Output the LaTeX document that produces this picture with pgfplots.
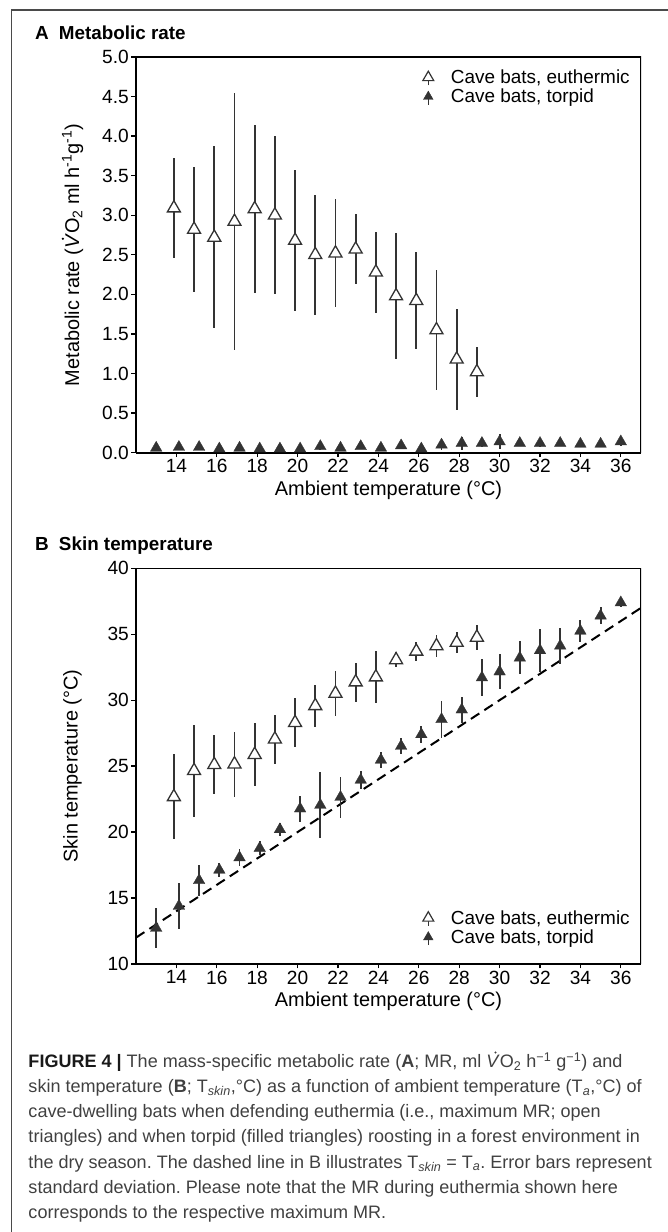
\documentclass[border=0pt]{standalone}
\usepackage{fontspec}
\setmainfont{Liberation Sans}
\usepackage{pgfplots}
\pgfplotsset{compat=1.18}
\usepackage{pgfplotstable}
\definecolor{c333}{HTML}{333333}
\definecolor{capg}{HTML}{404040}
\definecolor{framec}{HTML}{4A4A4A}
\frenchspacing

\newcommand{\Vdot}{\textit{V}\kern-0.3em\tikz[baseline=0pt]\fill (0,0.82em) circle (0.06em);\kern0.18em}

\pgfplotstableread{
x y e
13.875 3.09 0.63
14.875 2.82 0.79
15.875 2.72 1.15
16.875 2.92 1.62
17.875 3.08 1.06
18.875 3.00 1.00
19.875 2.68 0.89
20.875 2.50 0.76
21.875 2.52 0.68
22.875 2.57 0.44
23.875 2.28 0.51
24.875 1.98 0.79
25.875 1.92 0.61
26.875 1.55 0.76
27.875 1.18 0.64
28.875 1.02 0.32
}\euthA

\pgfplotstableread{
x y e
13 0.06 0.02
14.125 0.07 0.02
15.125 0.07 0.02
16.125 0.05 0.02
17.125 0.06 0.02
18.125 0.05 0.02
19.125 0.05 0.02
20.125 0.05 0.02
21.125 0.08 0.05
22.125 0.06 0.03
23.125 0.08 0.03
24.125 0.06 0.03
25.125 0.09 0.03
26.125 0.05 0.03
27.125 0.10 0.06
28.125 0.12 0.08
29.125 0.12 0.05
30 0.14 0.09
31 0.12 0.04
32 0.12 0.05
33 0.12 0.04
34 0.11 0.04
35 0.11 0.04
36 0.14 0.05
}\torpA

\pgfplotstableread{
x y e
13.875 22.67 3.22
14.875 24.65 3.50
15.875 25.10 2.23
16.875 25.15 2.46
17.875 25.87 2.37
18.875 27.04 1.84
19.875 28.29 1.85
20.875 29.57 1.58
21.875 30.51 1.71
22.875 31.37 1.48
23.875 31.75 1.99
24.875 33.05 0.57
25.875 33.70 0.72
26.875 34.11 0.87
27.875 34.37 0.81
28.875 34.76 0.94
}\euthB

\pgfplotstableread{
x y e
13 12.72 1.52
14.125 14.39 1.75
15.125 16.34 1.20
16.125 17.13 0.53
17.125 18.07 0.66
18.125 18.78 0.53
19.125 20.20 0.50
20.125 21.77 0.98
21.125 22.05 2.47
22.125 22.65 1.56
23.125 23.95 0.68
24.125 25.47 0.60
25.125 26.52 0.63
26.125 27.40 0.63
27.125 28.55 1.39
28.125 29.28 0.98
29.125 31.71 1.39
30 32.16 1.33
31 33.21 1.24
32 33.77 1.62
33 34.12 1.39
34 35.25 0.82
35 36.40 0.63
36 37.40 0.35
}\torpB

\pgfplotsset{
  panel/.style={
    width=505bp, height=395.7bp, scale only axis,
    xmin=12, xmax=37,
    axis x line*=bottom, axis y line*=left,
    axis line style={-, line width=2.2bp, black},
    xtick={14,16,...,36},
    tick align=outside, major tick length=4.5bp,
    tick style={line width=1.3bp, black},
    /pgf/number format/assume math mode=true,
    tick label style={font=\fontsize{19.2}{22}\selectfont, text=black},
    xticklabel style={inner sep=2bp},
    yticklabel style={inner sep=2.5bp},
    every axis x label/.style={at={(axis description cs:0.5,-0.0943)}, anchor=center,
      font=\fontsize{20}{23}\selectfont},
    every axis y label/.style={at={(axis description cs:-0.1257,0.5)}, rotate=90, anchor=center,
      font=\fontsize{20}{23}\selectfont},
    xlabel={Ambient temperature (°C)},
    legend style={draw=none, fill=none, inner sep=0bp, row sep=1bp, column sep=15bp,
      font=\fontsize{19}{22}\selectfont, nodes={inner sep=1.5bp}, cells={anchor=west}},
  },
  eu/.style={only marks, mark=triangle*, mark size=7.5bp,
    mark options={draw=c333, fill=white, line width=1.3bp, solid},
    error bars/y dir=both, error bars/y explicit, error bars/error mark=none,
    error bars/error bar style={line width=1.9bp, c333}},
  to/.style={only marks, mark=triangle*, mark size=6.7bp,
    mark options={draw=c333, fill=c333, line width=0.3bp, solid},
    error bars/y dir=both, error bars/y explicit, error bars/error mark=none,
    error bars/error bar style={line width=1.9bp, c333}},
  euleg/.style={legend image code/.code={
    \draw[c333, line width=1.5bp] (0bp,-8bp) -- (0bp,0bp);
    \draw[c333, fill=white, line width=1.2bp] (90:6.3bp) -- (210:6.3bp) -- (330:6.3bp) -- cycle;}},
  toleg/.style={legend image code/.code={
    \draw[c333, line width=1.5bp] (0bp,-8bp) -- (0bp,2bp);
    \fill[c333] (90:5.6bp) -- (210:5.6bp) -- (330:5.6bp) -- cycle;}},
}

\begin{document}
\begin{tikzpicture}[x=1bp,y=1bp]
\path[use as bounding box] (0,0) rectangle (668,1232);
\draw[framec, line width=1.5bp] (11.7,-2) -- (11.7,1222) -- (670,1222);

% panel titles
\node[anchor=base west, inner sep=0, font=\fontsize{19}{22}\selectfont\bfseries] at (35,1192) {A};
\node[anchor=base west, inner sep=0, font=\fontsize{18.9}{22}\selectfont\bfseries] at (58.8,1192) {Metabolic rate};
\node[anchor=base west, inner sep=0, font=\fontsize{19}{22}\selectfont\bfseries] at (35,681) {B};
\node[anchor=base west, inner sep=0, font=\fontsize{18.9}{22}\selectfont\bfseries] at (58.8,681) {Skin temperature};

% Panel A
\begin{axis}[panel,
  at={(136bp,779.3bp)}, anchor=south west,
  ymin=0, ymax=5, ytick={0,0.5,...,5},
  yticklabel style={/pgf/number format/.cd, fixed, fixed zerofill, precision=1},
  ylabel={Metabolic rate (\Vdot O\textsubscript{2} ml h\textsuperscript{-1}g\textsuperscript{-1})},
  legend style={at={(0.981,0.9717)}, anchor=north east},
]
\addlegendimage{euleg}
\addlegendentry{Cave bats, euthermic}
\addlegendimage{toleg}
\addlegendentry{Cave bats, torpid}
\addplot[forget plot, eu] table[x=x, y=y, y error=e] {\euthA};
\addplot[forget plot, to] table[x=x, y=y, y error=e] {\torpA};
\draw[line width=1.2bp, black] (rel axis cs:0,1) -- (rel axis cs:1,1) -- (rel axis cs:1,0);
\end{axis}

% Panel B
\begin{axis}[panel,
  at={(136bp,268bp)}, anchor=south west,
  ymin=10, ymax=40, ytick={10,15,...,40},
  ylabel={Skin temperature (°C)},
  legend style={at={(0.981,0.0442)}, anchor=south east},
]
\addlegendimage{euleg}
\addlegendentry{Cave bats, euthermic}
\addlegendimage{toleg}
\addlegendentry{Cave bats, torpid}
\addplot[forget plot, black, line width=2bp, dash pattern=on 10bp off 6bp] coordinates {(12,12) (37,37)};
\addplot[forget plot, eu] table[x=x, y=y, y error=e] {\euthB};
\addplot[forget plot, to] table[x=x, y=y, y error=e] {\torpB};
\draw[line width=1.2bp, black] (rel axis cs:0,1) -- (rel axis cs:1,1) -- (rel axis cs:1,0);
\end{axis}

% caption
\begin{scope}[every node/.style={anchor=base west, inner sep=0, text=capg, font=\fontsize{18.1}{25.2}\selectfont}]
\node at (28.3,164.7) {{\color{black!90}\textbf{FIGURE 4 |}} The mass-specific metabolic rate (\textbf{A}; MR, ml \Vdot O\textsubscript{2} h\textsuperscript{−1} g\textsuperscript{−1}) and};
\node at (28.3,139.5) {skin temperature (\textbf{B}; T\textsubscript{\textit{skin}},°C) as a function of ambient temperature (T\textsubscript{\textit{a}},°C) of};
\node at (28.3,114.3) {cave-dwelling bats when defending euthermia (i.e., maximum MR; open};
\node at (28.3,89.1) {triangles) and when torpid (filled triangles) roosting in a forest environment in};
\node at (28.3,63.9) {the dry season. The dashed line in B illustrates T\textsubscript{\textit{skin}} = T\textsubscript{\textit{a}}. Error bars represent};
\node at (28.3,38.7) {standard deviation. Please note that the MR during euthermia shown here};
\node at (28.3,13.5) {corresponds to the respective maximum MR.};
\end{scope}
\end{tikzpicture}
\end{document}
